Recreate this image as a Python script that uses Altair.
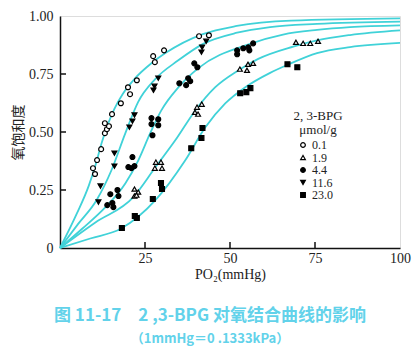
import altair as alt
import pandas as pd

# ---- data ----
series_order = ["0.1", "1.9", "4.4", "11.6", "23.0"]
legend_title = ["2, 3-BPG", "μmol/g"]

# 0.1 umol/g (open circles)
s01_x = [9.7, 10.3, 10.9, 12.1, 13.2, 13.8, 14.4, 13.2, 15.3, 17.9, 20.6, 20.0, 22.6, 27.4, 27.9, 30.6, 40.9, 43.8]
s01_y = [0.344, 0.319, 0.379, 0.426, 0.495, 0.512, 0.525, 0.538, 0.577, 0.624, 0.663, 0.693, 0.723, 0.827, 0.801, 0.852, 0.913, 0.917]

# 1.9 umol/g (open triangles)
s19_x = [21.9, 23.0, 21.9, 22.5, 27.9, 28.2, 29.7, 30.0, 39.7, 40.3, 40.6, 41.7, 52.9, 55.0, 55.3, 56.8, 69.4, 71.5, 73.6, 75.9]
s19_y = [0.254, 0.241, 0.224, 0.228, 0.344, 0.370, 0.370, 0.344, 0.585, 0.607, 0.577, 0.620, 0.771, 0.766, 0.792, 0.796, 0.887, 0.882, 0.882, 0.891]

# 4.4 umol/g (filled circles)
s44_x = [13.9, 14.8, 15.4, 15.7, 16.9, 17.2, 20.1, 21.0, 21.3, 21.9, 26.9, 26.9, 27.2, 28.9, 28.9, 35.1, 37.1, 37.7, 38.3, 39.5, 40.4, 52.1, 52.1, 53.9, 55.4, 55.7, 56.8]
s44_y = [0.185, 0.232, 0.194, 0.176, 0.250, 0.224, 0.349, 0.344, 0.392, 0.353, 0.560, 0.534, 0.486, 0.555, 0.529, 0.710, 0.702, 0.732, 0.719, 0.796, 0.779, 0.852, 0.835, 0.861, 0.865, 0.852, 0.882]

# 11.6 umol/g (filled triangles)
s116_x = [11.3, 11.9, 16.0, 16.0, 20.4, 21.3, 21.9, 27.5, 27.8, 28.9, 41.6, 41.8, 43.0]
s116_y = [0.198, 0.267, 0.353, 0.409, 0.521, 0.547, 0.573, 0.680, 0.697, 0.732, 0.844, 0.865, 0.891]

# 23.0 umol/g (filled squares)
s230_x = [18.2, 22.0, 22.6, 27.3, 29.7, 30.0, 38.6, 41.6, 41.9, 53.0, 54.8, 56.0, 66.9, 69.8]
s230_y = [0.086, 0.138, 0.129, 0.211, 0.280, 0.254, 0.430, 0.474, 0.517, 0.667, 0.672, 0.689, 0.792, 0.779]

# fitted curves
c01_x = [0, 5.0, 8.5, 10.5, 12.2, 14.0, 16.0, 18.5, 22.0, 26.8, 31.0, 42.0, 52.0, 68.0, 100]
c01_y = [0, 0.150, 0.270, 0.360, 0.450, 0.530, 0.600, 0.665, 0.730, 0.795, 0.840, 0.922, 0.957, 0.980, 0.990]
c116_x = [0, 5.4, 10.7, 15.1, 19.2, 23.0, 28.0, 34.8, 42.1, 52.1, 61.8, 75.6, 100]
c116_y = [0, 0.105, 0.205, 0.334, 0.494, 0.630, 0.728, 0.809, 0.880, 0.928, 0.952, 0.966, 0.976]
c44_x = [0, 6.6, 13.3, 19.2, 23.0, 26.5, 29.8, 34.8, 40.6, 55.9, 65.6, 75.6, 85.3, 100]
c44_y = [0, 0.084, 0.175, 0.278, 0.377, 0.494, 0.593, 0.692, 0.774, 0.880, 0.920, 0.940, 0.952, 0.960]
c19_x = [0, 10.4, 21.5, 28.0, 33.9, 39.8, 45.6, 52.4, 58.3, 68.6, 75.6, 85.3, 100]
c19_y = [0, 0.110, 0.218, 0.347, 0.464, 0.593, 0.692, 0.765, 0.815, 0.868, 0.895, 0.918, 0.938]
c230_x = [0, 8.9, 18.0, 28.0, 36.8, 42.7, 48.6, 54.5, 61.8, 67.0, 75.6, 85.3, 100]
c230_y = [0, 0.041, 0.084, 0.205, 0.377, 0.519, 0.623, 0.693, 0.755, 0.790, 0.840, 0.866, 0.884]

x_ticks = [0, 25, 50, 75, 100]
y_ticks = [0, 0.25, 0.5, 0.75, 1.0]

# ---- build tables ----
pts = []
for name, xs, ys in [("0.1", s01_x, s01_y), ("1.9", s19_x, s19_y), ("4.4", s44_x, s44_y),
                     ("11.6", s116_x, s116_y), ("23.0", s230_x, s230_y)]:
    for a, b in zip(xs, ys):
        pts.append({"po2": a, "sat": b, "bpg": name})
pts = pd.DataFrame(pts)

crv = []
for name, xs, ys in [("0.1", c01_x, c01_y), ("11.6", c116_x, c116_y), ("4.4", c44_x, c44_y),
                     ("1.9", c19_x, c19_y), ("23.0", c230_x, c230_y)]:
    for a, b in zip(xs, ys):
        crv.append({"po2": a, "sat": b, "curve": name})
crv = pd.DataFrame(crv)

leg = pd.DataFrame({"bpg": series_order})
leg_t = pd.DataFrame({"line": legend_title})

serif = "Liberation Serif"
cjk = "Noto Sans CJK SC"

xscale = alt.Scale(domain=[0, 100], nice=False)
yscale = alt.Scale(domain=[0, 1], nice=False)
shape_scale = alt.Scale(domain=series_order,
                        range=["circle", "triangle-up", "circle", "triangle-down", "square"])
fill_scale = alt.Scale(domain=series_order, range=["white", "white", "black", "black", "black"])

xaxis = alt.Axis(values=x_ticks, labelExpr="datum.value == 0 ? '' : datum.label",
                 tickSize=0, labelFont=serif, labelFontSize=14, labelColor="#222",
                 labelPadding=3, labelFlush=False, domainColor="#111", domainWidth=1.5, grid=False,
                 title="PO₂(mmHg)", titleFont=serif, titleFontSize=14, titleFontWeight="normal",
                 titleColor="#222", titlePadding=2)
yaxis = alt.Axis(values=y_ticks, labelExpr="datum.value == 0 ? '0' : format(datum.value, '.2f')",
                 tickSize=0, labelFont=serif, labelFontSize=14, labelColor="#222",
                 labelPadding=7, labelFlush=False, domainColor="#111", domainWidth=1.5, grid=False,
                 title="氧饱和度", titleFont=cjk, titleFontSize=14, titleFontWeight="normal",
                 titleColor="#222", titlePadding=3)

curves = alt.Chart(crv).mark_line(color="#40d2d8", strokeWidth=1.8, interpolate="monotone").encode(
    x=alt.X("po2:Q", scale=xscale, axis=xaxis),
    y=alt.Y("sat:Q", scale=yscale, axis=yaxis),
    detail="curve:N",
)

points = alt.Chart(pts).mark_point(stroke="black", strokeWidth=1.2, size=24, opacity=1, fillOpacity=1).encode(
    x=alt.X("po2:Q", scale=xscale),
    y=alt.Y("sat:Q", scale=yscale),
    shape=alt.Shape("bpg:N", scale=shape_scale, legend=None),
    fill=alt.Fill("bpg:N", scale=fill_scale, legend=None),
)

xt = alt.Chart(pd.DataFrame({"t": x_ticks[1:-1]})).mark_rule(color="#111", strokeWidth=1.5).encode(
    x=alt.X("t:Q", scale=xscale), y=alt.value(232), y2=alt.value(226))
yt = alt.Chart(pd.DataFrame({"t": y_ticks[1:-1]})).mark_rule(color="#111", strokeWidth=1.5).encode(
    y=alt.Y("t:Q", scale=yscale), x=alt.value(0), x2=alt.value(6))

base = alt.layer(curves, points, xt, yt)

# legend drawn by hand inside the plot
leg_y = alt.Y("bpg:N", scale=alt.Scale(type="point", domain=series_order, range=[129, 179], padding=0), axis=None)
leg_sym = alt.Chart(leg).mark_point(stroke="black", strokeWidth=1.2, size=22, opacity=1, fillOpacity=1).encode(
    x=alt.value(243), y=leg_y,
    shape=alt.Shape("bpg:N", scale=shape_scale, legend=None),
    fill=alt.Fill("bpg:N", scale=fill_scale, legend=None),
)
leg_lab = alt.Chart(leg).mark_text(align="left", baseline="middle", font=serif, fontSize=12, color="#222").encode(
    x=alt.value(252), y=leg_y, text="bpg:N")
leg_tit = alt.Chart(leg_t).mark_text(align="center", baseline="middle", font=serif, fontSize=13, color="#222").encode(
    x=alt.value(258),
    y=alt.Y("line:N", scale=alt.Scale(type="point", domain=legend_title, range=[100, 114], padding=0), axis=None),
    text="line:N")

chart = alt.layer(base, leg_sym, leg_lab, leg_tit).resolve_scale(y="independent").properties(
    width=340, height=232,
    autosize=alt.AutoSizeParams(type="none"),
    padding={"left": 60, "top": 16, "right": 17, "bottom": 106},
    title=alt.TitleParams(
        text="图 11-17　2 ,3-BPG 对氧结合曲线的影响",
        subtitle="（1mmHg＝0 .1333kPa）",
        orient="bottom", anchor="middle", dx=-20, offset=27,
        font=cjk, fontSize=17, fontWeight="bold", color="#62d2ea",
        subtitleFont=cjk, subtitleFontSize=13, subtitleFontWeight="bold",
        subtitleColor="#62d2ea", subtitlePadding=8,
    ),
).configure_view(stroke="#111", strokeWidth=1.5).configure(background="white")

chart.save("out.html", embed_options={"renderer": "svg", "actions": False})
